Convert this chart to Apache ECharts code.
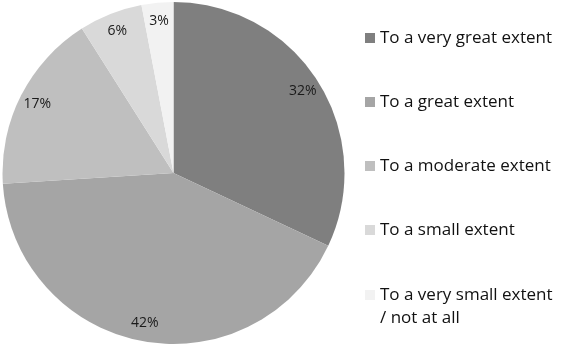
<!DOCTYPE html>
<html>
<head>
<meta charset="utf-8">
<script src="https://cdn.jsdelivr.net/npm/echarts@6/dist/echarts.min.js"></script>
<style>
  html, body { margin: 0; padding: 0; background: #fff; }
  #box { width: 561px; height: 347px; }
</style>
</head>
<body>
<div id="box"></div>
<script>
var categories = ['To a very great extent', 'To a great extent', 'To a moderate extent', 'To a small extent', 'To a very small extent / not at all'];
var shares = [32, 42, 17, 6, 3];
var sliceColors = ['#7f7f7f', '#a5a5a5', '#bfbfbf', '#d9d9d9', '#f2f2f2'];

var myChart = echarts.init(document.getElementById('box'));

var pieData = categories.map(function (name, i) {
    return { name: name, value: shares[i], itemStyle: { color: sliceColors[i] } };
});
var labelData = categories.map(function (name, i) {
    return { name: name, value: shares[i] };
});

var legendText = {
    fontFamily: 'Open Sans',
    fontSize: 17,
    lineHeight: 23,
    color: '#111'
};

option = {
    animation: false,
    color: sliceColors,
    legend: [
        {
            orient: 'vertical',
            left: 365,
            top: 26.5,
            padding: 0,
            itemWidth: 10,
            itemHeight: 10,
            itemGap: 41,
            icon: 'rect',
            selectedMode: false,
            textStyle: legendText,
            data: categories.slice(0, 4)
        },
        {
            // last entry wraps; blank first line keeps the marker level with the first text line
            orient: 'vertical',
            left: 365,
            top: 260.5,
            padding: 0,
            itemWidth: 10,
            itemHeight: 10,
            icon: 'rect',
            selectedMode: false,
            textStyle: legendText,
            formatter: function (name) {
                return '\n' + name.replace(' / ', '\n/ ');
            },
            data: categories.slice(4)
        }
    ],
    series: [
        {
            name: 'main',
            type: 'pie',
            center: [173.5, 173],
            radius: 171,
            startAngle: 90,
            clockwise: true,
            silent: true,
            label: { show: false },
            labelLine: { show: false },
            itemStyle: { borderWidth: 0 },
            data: pieData
        },
        {
            // transparent ring used only to place the percent labels near the rim
            name: 'labels',
            type: 'pie',
            center: [173.5, 173],
            radius: [130, 170],
            startAngle: 90,
            clockwise: true,
            silent: true,
            itemStyle: { color: 'rgba(0,0,0,0)' },
            label: {
                show: true,
                position: 'inside',
                formatter: '{c}%',
                fontFamily: 'Open Sans',
                fontSize: 14,
                color: '#1a1a1a'
            },
            labelLine: { show: false },
            data: labelData
        }
    ]
};

myChart.setOption(option);
</script>
</body>
</html>
